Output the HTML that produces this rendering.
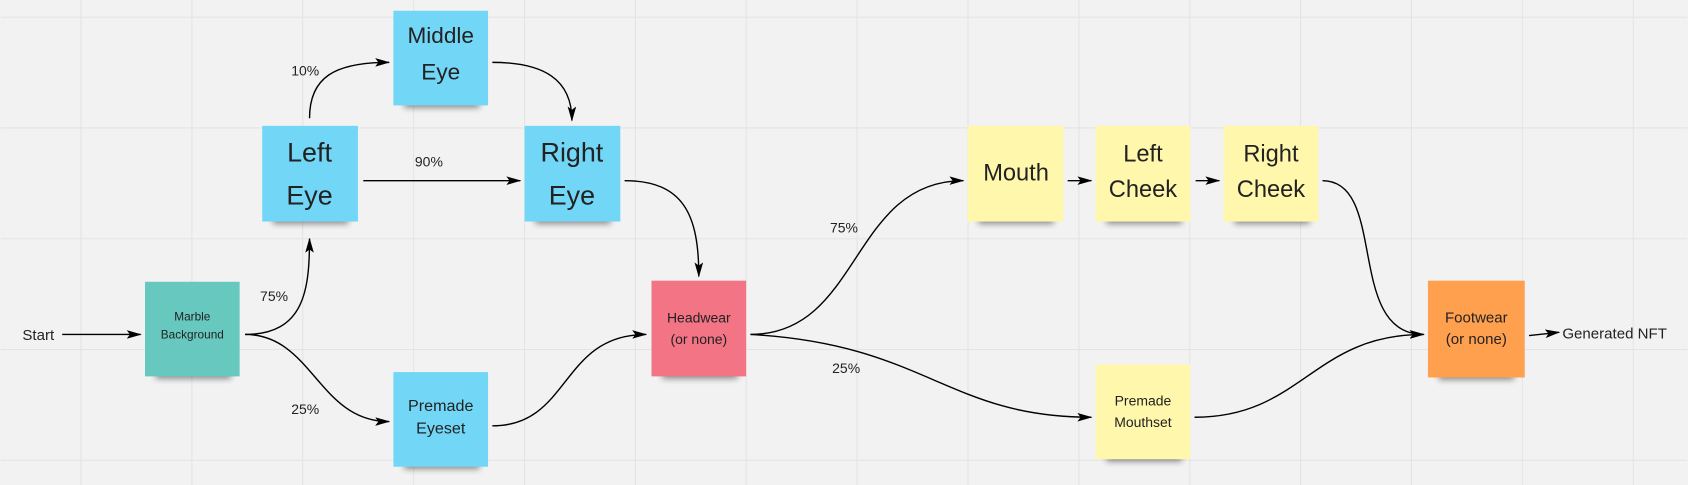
<!DOCTYPE html>
<html><head><meta charset="utf-8"><style>
html,body{margin:0;padding:0;background:#f2f2f2;}
svg{display:block}
text{font-family:"Liberation Sans",sans-serif;fill:#222;}
.l{font-size:13px;fill:#444}
</style></head><body>
<svg width="1688" height="485" viewBox="0 0 1568 451" xmlns="http://www.w3.org/2000/svg">
<defs>
<marker id="a" markerWidth="14" markerHeight="8" refX="13" refY="4" orient="auto" markerUnits="userSpaceOnUse"><path d="M0,0 L14,4 L0,8 L3,4 Z" fill="#000"/></marker>
<filter id="s" x="-20%" y="-20%" width="140%" height="160%"><feGaussianBlur stdDeviation="3"/></filter>
</defs>
<rect width="1568" height="451" fill="#f2f2f2"/>
<g stroke="#e4e4e4" stroke-width="1">
<line x1="74.5" y1="0" x2="74.5" y2="451"/><line x1="177.6" y1="0" x2="177.6" y2="451"/><line x1="280.7" y1="0" x2="280.7" y2="451"/><line x1="383.8" y1="0" x2="383.8" y2="451"/><line x1="486.9" y1="0" x2="486.9" y2="451"/><line x1="590" y1="0" x2="590" y2="451"/><line x1="693.1" y1="0" x2="693.1" y2="451"/><line x1="796.2" y1="0" x2="796.2" y2="451"/><line x1="899.3" y1="0" x2="899.3" y2="451"/><line x1="1002.4" y1="0" x2="1002.4" y2="451"/><line x1="1105.5" y1="0" x2="1105.5" y2="451"/><line x1="1208.6" y1="0" x2="1208.6" y2="451"/><line x1="1311.7" y1="0" x2="1311.7" y2="451"/><line x1="1414.8" y1="0" x2="1414.8" y2="451"/><line x1="1517.9" y1="0" x2="1517.9" y2="451"/>
<line x1="0" y1="16" x2="1568" y2="16"/><line x1="0" y1="119" x2="1568" y2="119"/><line x1="0" y1="222" x2="1568" y2="222"/><line x1="0" y1="325" x2="1568" y2="325"/><line x1="0" y1="428" x2="1568" y2="428"/>
</g>
<g fill="#000" opacity="0.45" filter="url(#s)">
<rect x="144" y="344" width="70" height="8"/><rect x="253" y="200" width="70" height="8"/><rect x="375" y="92" width="70" height="8"/><rect x="497" y="200" width="70" height="8"/><rect x="375" y="428" width="70" height="8"/><rect x="615" y="344" width="70" height="8"/><rect x="909" y="200" width="70" height="8"/><rect x="1028" y="200" width="70" height="8"/><rect x="1147" y="200" width="70" height="8"/><rect x="1028" y="421" width="70" height="8"/><rect x="1337" y="345" width="70" height="8"/>
</g>
<rect x="134" y="262" width="88" height="88" fill="#67c8c0"/>
<rect x="243" y="117" width="89" height="89" fill="#72d7f7"/>
<rect x="365" y="10" width="88" height="88" fill="#72d7f7"/>
<rect x="487" y="117" width="89" height="89" fill="#72d7f7"/>
<rect x="365" y="346" width="88" height="88" fill="#72d7f7"/>
<rect x="605" y="261" width="88" height="89" fill="#f27485"/>
<rect x="899" y="117" width="89" height="89" fill="#fff7ac"/>
<rect x="1018" y="117" width="88" height="89" fill="#fff7ac"/>
<rect x="1137" y="117" width="88" height="89" fill="#fff7ac"/>
<rect x="1018" y="339" width="88" height="88" fill="#fff7ac"/>
<rect x="1327" y="261" width="90" height="90" fill="#ffa04e"/>
<g fill="none" stroke="#000" stroke-width="1.3" marker-end="url(#a)">
<path d="M57,311 L130,311"/>
<path d="M227,311 C282,311 287,270 287,222"/>
<path d="M227,311 C290,311 295,392 361,392"/>
<path d="M287,110 C287,72 310,58 361,58"/>
<path d="M337,168 L483,168"/>
<path d="M457,58 C505,58 531,74 531,112"/>
<path d="M580,168 C635,168 649,200 649,257"/>
<path d="M457,396 C530,396 520,311 600,311"/>
<path d="M697,311 C800,311 790,168 895,168"/>
<path d="M697,311 C860,320 880,388 1014,388"/>
<path d="M992,168 L1014,168"/>
<path d="M1111,168 L1133,168"/>
<path d="M1229,168 C1290,168 1250,311 1323,311"/>
<path d="M1110,388 C1210,388 1220,311 1323,311"/>
<path d="M1421,312 L1449,309"/>
</g>
<text x="20" y="316" font-size="14" fill="#333">Start</text>
<text x="1452" y="315" font-size="14" fill="#333">Generated NFT</text>
<g class="l"><text x="241" y="280">75%</text><text x="270" y="385">25%</text><text x="270" y="70">10%</text><text x="385" y="155">90%</text><text x="771" y="216">75%</text><text x="773" y="347">25%</text></g>
<g text-anchor="middle">
<text x="178" y="298" font-size="11" fill="#333">Marble</text><text x="178" y="315" font-size="11" fill="#333">Background</text>
<text x="287" y="150" font-size="25">Left</text><text x="287" y="190" font-size="25">Eye</text>
<text x="409" y="40" font-size="21">Middle</text><text x="409" y="74" font-size="21">Eye</text>
<text x="531" y="150" font-size="25">Right</text><text x="531" y="190" font-size="25">Eye</text>
<text x="409" y="382" font-size="15" fill="#333">Premade</text><text x="409" y="403" font-size="15" fill="#333">Eyeset</text>
<text x="649" y="300" font-size="13" fill="#333">Headwear</text><text x="649" y="320" font-size="13" fill="#333">(or none)</text>
<text x="944" y="168" font-size="22">Mouth</text>
<text x="1062" y="150" font-size="22">Left</text><text x="1062" y="183" font-size="22">Cheek</text>
<text x="1181" y="150" font-size="22">Right</text><text x="1181" y="183" font-size="22">Cheek</text>
<text x="1062" y="377" font-size="13" fill="#333">Premade</text><text x="1062" y="397" font-size="13" fill="#333">Mouthset</text>
<text x="1372" y="300" font-size="14" fill="#333">Footwear</text><text x="1372" y="320" font-size="14" fill="#333">(or none)</text>
</g>
</svg>
</body></html>
